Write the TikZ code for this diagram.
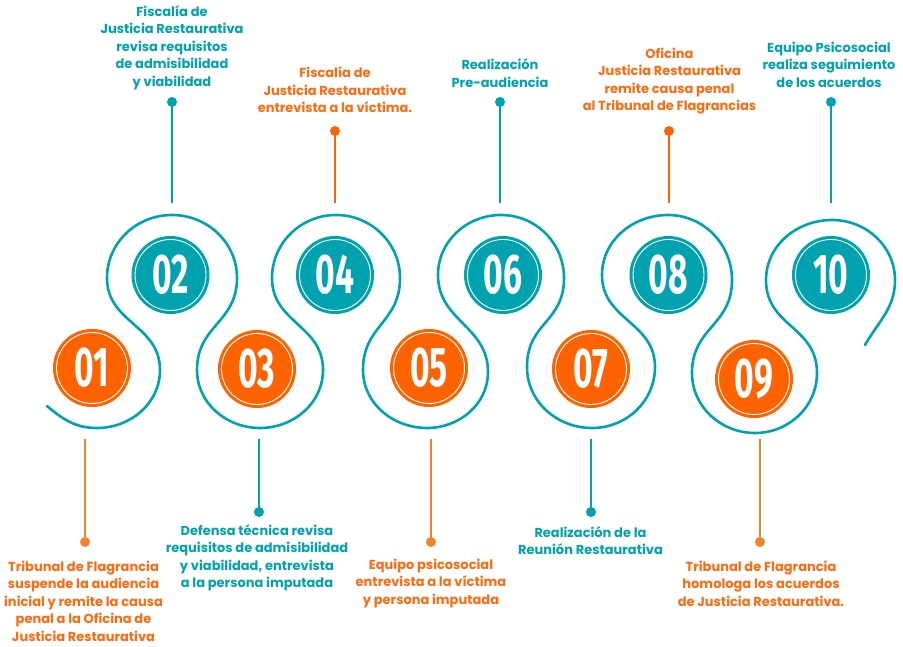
\documentclass[tikz,border=0pt]{standalone}
\usepackage{fontspec}
\usepackage{graphicx}
\setmainfont{Poppins}
\newfontfamily\numfont{Fira Sans}
\definecolor{jteal}{HTML}{00A2AF}
\definecolor{jorange}{HTML}{FF6200}
\definecolor{jorangeL}{HTML}{F5822A}
\definecolor{jorangeT}{HTML}{FF6A10}
\tikzset{
  numc/.style={circle, minimum size=78pt, inner sep=0pt, fill=#1, text=white,
    font=\numfont\bfseries\fontsize{56}{56}\selectfont,
    path picture={\draw[white,line width=0.9pt] (path picture bounding box.center) circle (35.5pt);}},
  pin/.style={circle, fill=#1, minimum size=10pt, inner sep=0pt},
  stem/.style={line width=2pt, draw=#1},
  lbl/.style={align=center, inner sep=0pt, text=#1,
    font=\bfseries\fontsize{13}{17.5}\selectfont},
  serp/.style={draw=jteal, line width=2.6pt, line cap=round}
}
\begin{document}
\begin{tikzpicture}[x=1pt,y=1pt]
\useasboundingbox (0,0) rectangle (903,646);
% serpentine line
\draw[serp] (47,240) to[out=-40,in=180] (97,218) to[out=0,in=-90] (160,276)
 .. controls (160,321) and (107,323) .. (107,368)
 to[out=90,in=180] (172,431) to[out=0,in=90] (237,368)
 .. controls (237,323) and (197,321) .. (197,276)
 to[out=-90,in=180] (260,218) to[out=0,in=-90] (323,276)
 .. controls (323,321) and (272,323) .. (272,368)
 to[out=90,in=180] (336,431) to[out=0,in=90] (400,368)
 .. controls (400,323) and (363,321) .. (363,276)
 to[out=-90,in=180] (427,218) to[out=0,in=-90] (488,274)
 .. controls (488,320) and (438,325) .. (438,371)
 to[out=90,in=180] (501,431) to[out=0,in=90] (564,368)
 .. controls (564,323) and (527,324) .. (527,279)
 to[out=-90,in=180] (592,218) to[out=0,in=-90] (655,279)
 .. controls (655,324) and (602,326) .. (602,371)
 to[out=90,in=180] (668,431) to[out=0,in=90] (732,366)
 .. controls (732,320) and (692,319) .. (692,273)
 to[out=-90,in=180] (755,213) to[out=0,in=-90] (817,273)
 .. controls (817,320) and (766,319) .. (766,366)
 to[out=90,in=180] (832,426) to[out=0,in=90] (895,366)
 to[out=-90,in=60] (865,301);
% number circles
\node[numc=jorange] (c1) at (92,278) {\scalebox{0.6}[1]{01}};
\node[numc=jteal] (c2) at (170.5,371) {\scalebox{0.6}[1]{02}};
\node[numc=jorange] (c3) at (257,277) {\scalebox{0.6}[1]{03}};
\node[numc=jteal] (c4) at (335,371) {\scalebox{0.6}[1]{04}};
\node[numc=jorange] (c5) at (429,278) {\scalebox{0.6}[1]{05}};
\node[numc=jteal] (c6) at (503,371) {\scalebox{0.6}[1]{06}};
\node[numc=jorange] (c7) at (591,277) {\scalebox{0.6}[1]{07}};
\node[numc=jteal] (c8) at (668.5,371) {\scalebox{0.6}[1]{08}};
\node[numc=jorange] (c9) at (754,267) {\scalebox{0.6}[1]{09}};
\node[numc=jteal] (c10) at (831,371) {\scalebox{0.6}[1]{10}};
% top pins
\node[pin=jteal] (p2) at (172,544) {};
\coordinate (s2) at (172,443);
\node[pin=jorange] (p4) at (335,515) {};
\coordinate (s4) at (335,443);
\node[pin=jteal] (p6) at (500,544) {};
\coordinate (s6) at (500,443);
\node[pin=jorange] (p8) at (669,515) {};
\coordinate (s8) at (669,443);
\node[pin=jteal] (p10) at (831,544) {};
\coordinate (s10) at (831,443);
\draw[stem=jteal] (p2.center) -- (s2);
\draw[stem=jorange] (p4.center) -- (s4);
\draw[stem=jteal] (p6.center) -- (s6);
\draw[stem=jorange] (p8.center) -- (s8);
\draw[stem=jteal] (p10.center) -- (s10);
% bottom pins
\node[pin=jorangeL] (p1) at (85,104) {};
\coordinate (s1) at (85,207);
\node[pin=jteal] (p3) at (259,134) {};
\coordinate (s3) at (259,207);
\node[pin=jorangeL] (p5) at (431,104) {};
\coordinate (s5) at (431,207);
\node[pin=jteal] (p7) at (591,134) {};
\coordinate (s7) at (591,207);
\node[pin=jorangeL] (p9) at (760,104) {};
\coordinate (s9) at (760,207);
\draw[stem=jorangeL] (p1.center) -- (s1);
\draw[stem=jteal] (p3.center) -- (s3);
\draw[stem=jorangeL] (p5.center) -- (s5);
\draw[stem=jteal] (p7.center) -- (s7);
\draw[stem=jorangeL] (p9.center) -- (s9);
% top labels
\node[lbl=jteal] (t2) at (172,598.5) {Fiscalía de\\Justicia Restaurativa\\revisa requisitos\\de admisibilidad\\y viabilidad};
\node[lbl=jorangeT] (t4) at (335,556) {Fiscalía de\\Justicia Restaurativa\\entrevista a la víctima.};
\node[lbl=jteal] (t6) at (500,573) {Realización\\Pre-audiencia};
\node[lbl=jorangeT] (t8) at (669.5,565) {Oficina\\Justicia Restaurativa\\remite causa penal\\al Tribunal de Flagrancias};
\node[lbl=jteal] (t10) at (829,581.5) {Equipo Psicosocial\\realiza seguimiento\\de los acuerdos};
% bottom labels
\node[lbl=jorangeT] (t1) at (83.5,45) {Tribunal de Flagrancia\\suspende la audiencia\\inicial y remite la causa\\penal a la Oficina de\\Justicia Restaurativa};
\node[lbl=jteal] (t3) at (257,88) {Defensa técnica revisa\\requisitos de admisibilidad\\y viabilidad, entrevista\\a la persona imputada};
\node[lbl=jorangeT] (t5) at (431,62.5) {Equipo psicosocial\\entrevista a la víctima\\y persona imputada};
\node[lbl=jteal] (t7) at (590.5,105.5) {Realización de la\\Reunión Restaurativa};
\node[lbl=jorangeT] (t9) at (761,62.5) {Tribunal de Flagrancia\\homologa los acuerdos\\de Justicia Restaurativa.};
\end{tikzpicture}
\end{document}
